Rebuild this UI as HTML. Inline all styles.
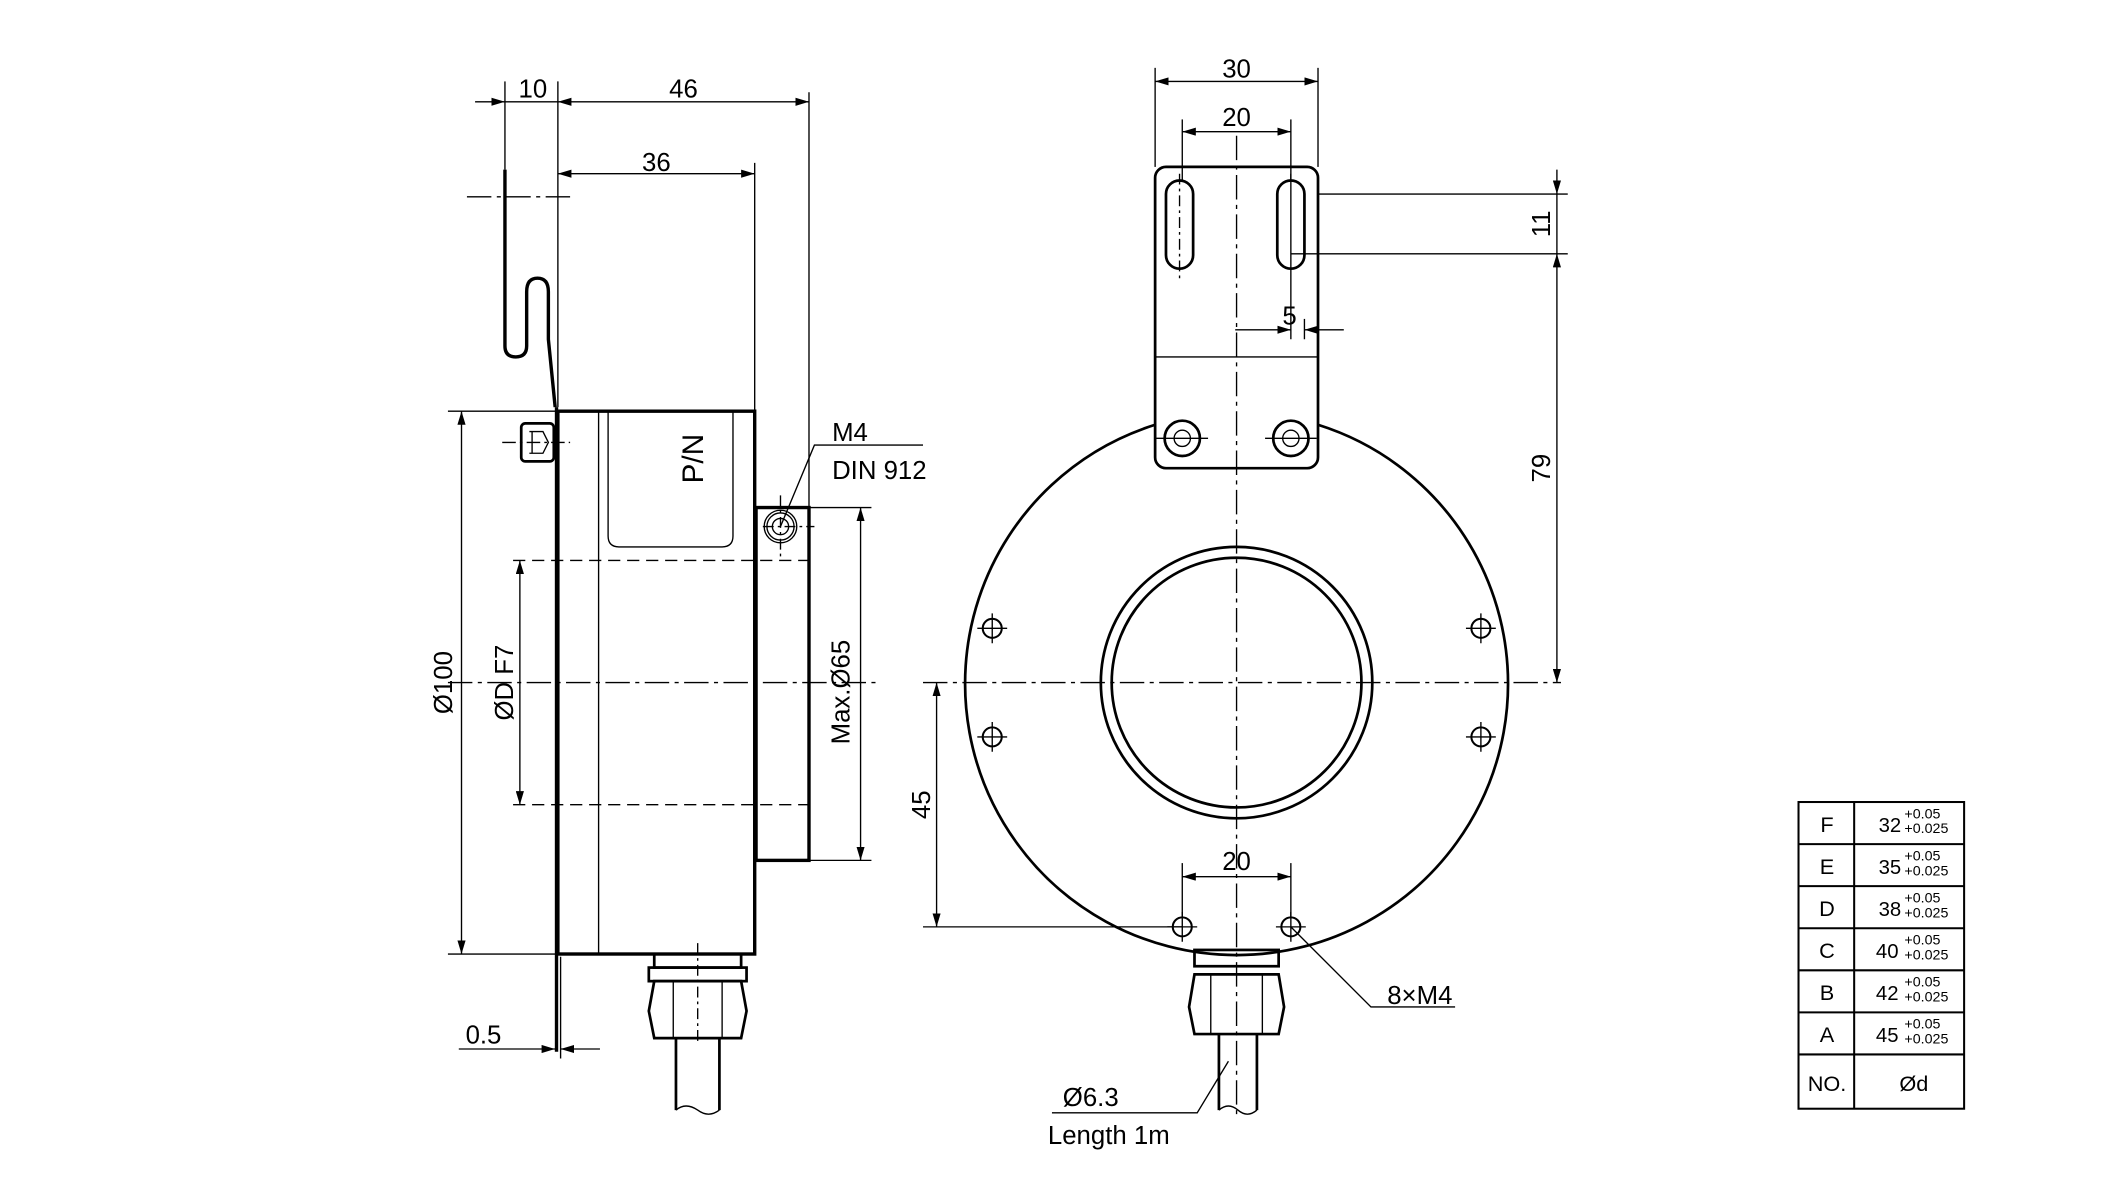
<!DOCTYPE html>
<html><head><meta charset="utf-8"><style>html,body{margin:0;padding:0;background:#fff}svg{display:block}text{font-family:"Liberation Sans",sans-serif;fill:#000}</style></head><body>
<svg width="2127" height="1182" viewBox="0 0 1567 871" preserveAspectRatio="none" xmlns="http://www.w3.org/2000/svg">
<defs>
<marker id="a" viewBox="0 0 10 6" refX="10" refY="3" markerWidth="10" markerHeight="6" orient="auto-start-reverse" markerUnits="userSpaceOnUse"><path d="M0,0L10,3L0,6z" fill="#000"/></marker>
</defs>
<g fill="none" stroke="#000" stroke-width="1">
<!-- LEFT VIEW -->
<line x1="330" y1="503" x2="645" y2="503" stroke-dasharray="18,4,3,4"/>
<line x1="344" y1="145" x2="420" y2="145" stroke-dasharray="18,4,3,4"/>
<path d="M372,125 L372,255 Q372,263 380,263 Q388,263 388,255 L388,215 Q388,205 396,205 Q404,205 404,215 L404,250 L409,300" stroke-width="2.5"/>
<line x1="410" y1="300" x2="410" y2="775" stroke-width="2.5"/>
<rect x="411" y="303" width="145" height="400" stroke-width="2.5"/>
<line x1="441" y1="303" x2="441" y2="703"/>
<path d="M448,303 L448,395 Q448,403 456,403 L532,403 Q540,403 540,395 L540,303"/>
<rect x="384" y="312" width="24" height="28" rx="3" stroke-width="2"/>
<path d="M390,318 L400,318 L404,326 L400,334 L390,334 M392,318 L392,334"/>
<line x1="370" y1="326" x2="420" y2="326" stroke-dasharray="10,3,2,3"/>
<rect x="557" y="374" width="39" height="260" stroke-width="2.5"/>
<circle cx="575" cy="388" r="12"/><circle cx="575" cy="388" r="10"/><circle cx="575" cy="388" r="6"/>
<line x1="562" y1="388" x2="600" y2="388" stroke-dasharray="8,3,2,3"/>
<line x1="575" y1="365" x2="575" y2="412" stroke-dasharray="8,3,2,3"/>
<line x1="378" y1="413" x2="600" y2="413" stroke-dasharray="9,5"/>
<line x1="378" y1="593" x2="600" y2="593" stroke-dasharray="9,5"/>
<!-- dims left -->
<line x1="330" y1="303" x2="411" y2="303"/><line x1="330" y1="703" x2="411" y2="703"/>
<line x1="340" y1="303" x2="340" y2="703" marker-start="url(#a)" marker-end="url(#a)"/>
<line x1="383" y1="413" x2="383" y2="593" marker-start="url(#a)" marker-end="url(#a)"/>
<line x1="596" y1="374" x2="642" y2="374"/><line x1="596" y1="634" x2="642" y2="634"/>
<line x1="634" y1="374" x2="634" y2="634" marker-start="url(#a)" marker-end="url(#a)"/>
<line x1="372" y1="60" x2="372" y2="125"/><line x1="411" y1="60" x2="411" y2="300"/>
<line x1="596" y1="68" x2="596" y2="374"/><line x1="556" y1="120" x2="556" y2="303"/>
<line x1="350" y1="75" x2="372" y2="75" marker-end="url(#a)"/>
<line x1="372" y1="75" x2="411" y2="75"/>
<line x1="411" y1="75" x2="596" y2="75" marker-start="url(#a)" marker-end="url(#a)"/>
<line x1="411" y1="128" x2="556" y2="128" marker-start="url(#a)" marker-end="url(#a)"/>
<line x1="413" y1="705" x2="413" y2="780"/>
<line x1="338" y1="773" x2="409" y2="773" marker-end="url(#a)"/>
<line x1="442" y1="773" x2="413" y2="773" marker-end="url(#a)"/>
<polyline points="575,388 600,328 680,328"/>
<!-- left gland -->
<rect x="482" y="703" width="64" height="10" stroke-width="2"/>
<rect x="478" y="713" width="72" height="10" stroke-width="2"/>
<path d="M482,723 L546,723 L550,745 L546,765 L482,765 L478,745 Z" stroke-width="2"/>
<line x1="496" y1="723" x2="496" y2="765"/><line x1="532" y1="723" x2="532" y2="765"/>
<line x1="514" y1="695" x2="514" y2="770" stroke-dasharray="8,3,2,3"/>
<line x1="498" y1="765" x2="498" y2="818" stroke-width="2"/><line x1="530" y1="765" x2="530" y2="818" stroke-width="2"/>
<path d="M498,818 Q505,812 514,818 Q522,824 530,818"/>
<!-- RIGHT VIEW -->
<path d="M851,313 A200,200 0 1 0 971,313" stroke-width="2"/>
<circle cx="911" cy="503" r="100" stroke-width="2"/>
<circle cx="911" cy="503" r="92" stroke-width="2"/>
<rect x="851" y="123" width="120" height="222" rx="8" stroke-width="2"/>
<line x1="851" y1="263" x2="971" y2="263"/>
<rect x="859" y="133" width="20" height="65" rx="10" stroke-width="2"/>
<rect x="941" y="133" width="20" height="65" rx="10" stroke-width="2"/>
<line x1="869" y1="128" x2="869" y2="205" stroke-dasharray="8,3,2,3"/>
<line x1="951" y1="128" x2="951" y2="250"/>
<circle cx="871" cy="323" r="13" stroke-width="2"/><circle cx="871" cy="323" r="6"/>
<circle cx="951" cy="323" r="13" stroke-width="2"/><circle cx="951" cy="323" r="6"/>
<line x1="852" y1="323" x2="890" y2="323"/><line x1="932" y1="323" x2="970" y2="323"/>
<line x1="911" y1="100" x2="911" y2="825" stroke-dasharray="18,4,3,4"/>
<line x1="680" y1="503" x2="1150" y2="503" stroke-dasharray="18,4,3,4"/>
<g stroke-width="1.5">
<circle cx="731" cy="463" r="7"/><circle cx="731" cy="543" r="7"/>
<circle cx="1091" cy="463" r="7"/><circle cx="1091" cy="543" r="7"/>
<circle cx="871" cy="683" r="7"/><circle cx="951" cy="683" r="7"/>
</g>
<path d="M720,463h22M731,452v22M720,543h22M731,532v22M1080,463h22M1091,452v22M1080,543h22M1091,532v22M860,683h22M871,672v22M940,683h22M951,672v22"/>
<!-- dims right -->
<line x1="851" y1="50" x2="851" y2="123"/><line x1="971" y1="50" x2="971" y2="123"/>
<line x1="851" y1="60" x2="971" y2="60" marker-start="url(#a)" marker-end="url(#a)"/>
<line x1="871" y1="88" x2="871" y2="133"/><line x1="951" y1="88" x2="951" y2="133"/>
<line x1="871" y1="97" x2="951" y2="97" marker-start="url(#a)" marker-end="url(#a)"/>
<line x1="971" y1="143" x2="1155" y2="143"/><line x1="951" y1="187" x2="1155" y2="187"/>
<line x1="1147" y1="125" x2="1147" y2="143" marker-end="url(#a)"/>
<line x1="1147" y1="143" x2="1147" y2="187"/>
<line x1="1147" y1="187" x2="1147" y2="503" marker-start="url(#a)" marker-end="url(#a)"/>
<line x1="961" y1="235" x2="961" y2="250"/>
<line x1="910" y1="243" x2="951" y2="243" marker-end="url(#a)"/>
<line x1="990" y1="243" x2="961" y2="243" marker-end="url(#a)"/>
<line x1="680" y1="683" x2="871" y2="683"/>
<line x1="690" y1="503" x2="690" y2="683" marker-start="url(#a)" marker-end="url(#a)"/>
<line x1="871" y1="636" x2="871" y2="676"/><line x1="951" y1="636" x2="951" y2="676"/>
<line x1="871" y1="646" x2="951" y2="646" marker-start="url(#a)" marker-end="url(#a)"/>
<polyline points="951,683 1010,742 1072,742"/>
<!-- right gland -->
<rect x="880" y="700" width="62" height="12" stroke-width="2"/>
<path d="M880,718 L942,718 L946,742 L942,762 L880,762 L876,742 Z" stroke-width="2"/>
<line x1="892" y1="718" x2="892" y2="762"/><line x1="930" y1="718" x2="930" y2="762"/>
<line x1="898" y1="762" x2="898" y2="818" stroke-width="2"/><line x1="926" y1="762" x2="926" y2="818" stroke-width="2"/>
<path d="M898,818 Q905,812 912,818 Q919,824 926,818"/>
<polyline points="905,782 882,820 775,820"/>
<!-- table -->
<rect x="1325" y="591" width="122" height="226" stroke-width="1.5"/>
<line x1="1366" y1="591" x2="1366" y2="817" stroke-width="1.5"/>
<path d="M1325,622h122M1325,653h122M1325,684h122M1325,715h122M1325,746h122M1325,777h122" stroke-width="1.5"/>
</g>
<g font-size="19">
<text x="382" y="72">10</text><text x="493" y="72">46</text><text x="473" y="126">36</text>
<text x="613" y="325">M4</text><text x="613" y="353">DIN 912</text>
<text x="343" y="769">0.5</text>
<text transform="translate(333,503) rotate(-90)" text-anchor="middle">Ø100</text>
<text transform="translate(378,503) rotate(-90)" text-anchor="middle">ØD F7</text>
<text transform="translate(626,510) rotate(-90)" text-anchor="middle">Max.Ø65</text>
<text transform="translate(518,338) rotate(-90)" text-anchor="middle" font-size="22">P/N</text>
<text x="911" y="57" text-anchor="middle">30</text><text x="911" y="93" text-anchor="middle">20</text>
<text x="950" y="239" text-anchor="middle">5</text>
<text transform="translate(1142,165) rotate(-90)" text-anchor="middle">11</text>
<text transform="translate(1142,345) rotate(-90)" text-anchor="middle">79</text>
<text transform="translate(685,593) rotate(-90)" text-anchor="middle">45</text>
<text x="911" y="641" text-anchor="middle">20</text>
<text x="1022" y="740">8×M4</text>
<text x="783" y="815">Ø6.3</text><text x="772" y="843">Length  1m</text>
</g>
<g font-size="16" text-anchor="middle">
<text x="1346" y="613">F</text><text x="1346" y="644">E</text><text x="1346" y="675">D</text>
<text x="1346" y="706">C</text><text x="1346" y="737">B</text><text x="1346" y="768">A</text>
<text x="1346" y="804">NO.</text><text x="1410" y="804">Ød</text>
</g>
<g font-size="15">
<text x="1384" y="613">32</text><text x="1384" y="644">35</text><text x="1384" y="675">38</text>
<text x="1382" y="706">40</text><text x="1382" y="737">42</text><text x="1382" y="768">45</text>
</g>
<g font-size="10.5">
<text x="1403" y="603">+0.05</text><text x="1403" y="614">+0.025</text>
<text x="1403" y="634">+0.05</text><text x="1403" y="645">+0.025</text>
<text x="1403" y="665">+0.05</text><text x="1403" y="676">+0.025</text>
<text x="1403" y="696">+0.05</text><text x="1403" y="707">+0.025</text>
<text x="1403" y="727">+0.05</text><text x="1403" y="738">+0.025</text>
<text x="1403" y="758">+0.05</text><text x="1403" y="769">+0.025</text>
</g>
</svg>
</body></html>
